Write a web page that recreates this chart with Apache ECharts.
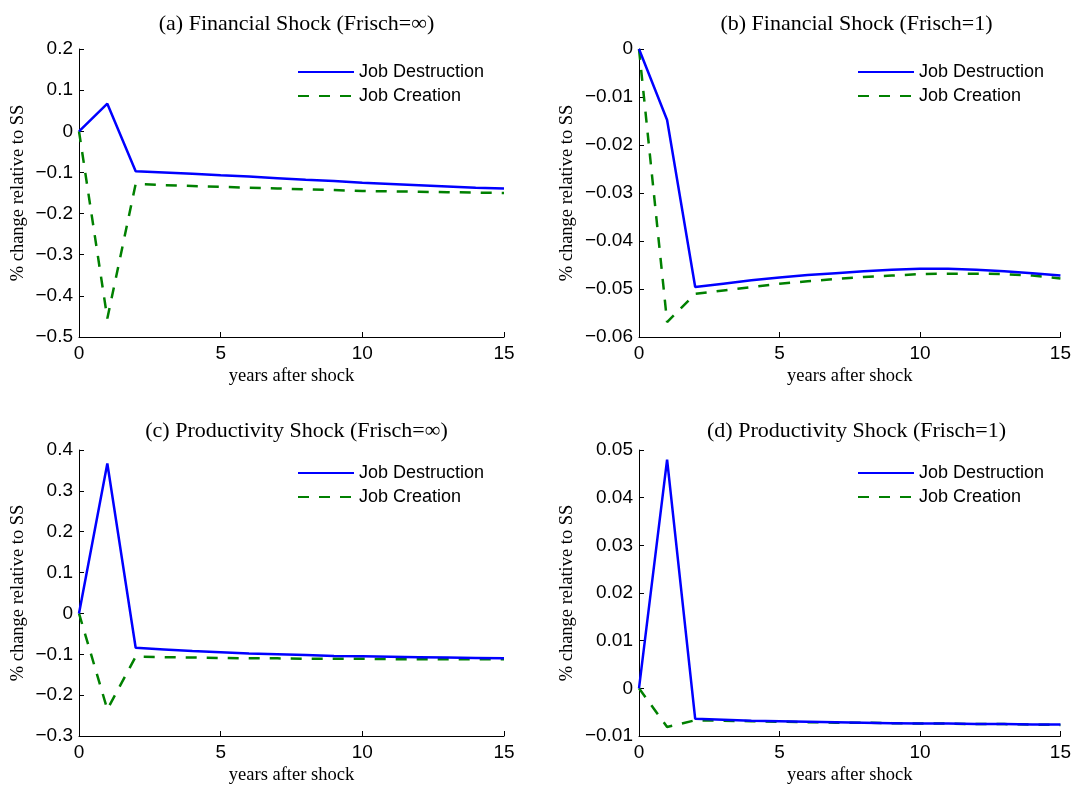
<!DOCTYPE html>
<html><head><meta charset="utf-8">
<script src="https://cdn.jsdelivr.net/npm/echarts@6/dist/echarts.min.js"></script>
<style>html,body{margin:0;padding:0;background:#fff}#c{width:1074px;height:786px}</style>
</head><body><div id="c"></div>
<script>
const years = [0,1,2,3,4,5,6,7,8,9,10,11,12,13,14,15];
const xTicks = [0,5,10,15];
const seriesNames = ['Job Destruction','Job Creation'];
const panelTitles = ['(a) Financial Shock (Frisch=\u221e)','(b) Financial Shock (Frisch=1)','(c) Productivity Shock (Frisch=\u221e)','(d) Productivity Shock (Frisch=1)'];
// (a) Financial shock, Frisch = inf
const jdA = [0,0.067,-0.097,-0.100,-0.103,-0.107,-0.110,-0.114,-0.118,-0.121,-0.125,-0.128,-0.131,-0.134,-0.137,-0.139];
const jcA = [0,-0.455,-0.128,-0.131,-0.133,-0.135,-0.137,-0.139,-0.141,-0.143,-0.145,-0.146,-0.147,-0.148,-0.149,-0.150];
// (b) Financial shock, Frisch = 1
const jdB = [0,-0.0148,-0.0496,-0.0489,-0.0482,-0.0476,-0.0471,-0.0467,-0.0463,-0.0460,-0.0458,-0.0458,-0.0460,-0.0463,-0.0467,-0.0472];
const jcB = [0,-0.0569,-0.0510,-0.0503,-0.0496,-0.0489,-0.0484,-0.0479,-0.0475,-0.0472,-0.0469,-0.0468,-0.0468,-0.0469,-0.0472,-0.0478];
// (c) Productivity shock, Frisch = inf
const jdC = [0,0.367,-0.084,-0.088,-0.092,-0.095,-0.098,-0.100,-0.102,-0.104,-0.105,-0.106,-0.107,-0.108,-0.109,-0.110];
const jcC = [0,-0.235,-0.106,-0.107,-0.108,-0.109,-0.110,-0.110,-0.111,-0.111,-0.111,-0.112,-0.112,-0.112,-0.112,-0.112];
// (d) Productivity shock, Frisch = 1
const jdD = [0,0.0480,-0.0064,-0.0066,-0.0068,-0.0069,-0.0070,-0.0071,-0.0072,-0.0073,-0.0074,-0.0074,-0.0075,-0.0075,-0.0076,-0.0076];
const jcD = [0,-0.0081,-0.0067,-0.0068,-0.0069,-0.0070,-0.0071,-0.0072,-0.0072,-0.0073,-0.0074,-0.0074,-0.0075,-0.0075,-0.0076,-0.0077];
// y-axis ranges per panel: [min, max, interval]
const yRanges = [[-0.5,0.2,0.1],[-0.06,0,0.01],[-0.3,0.4,0.1],[-0.01,0.05,0.01]];
const panelData = [[jdA,jcA],[jdB,jcB],[jdC,jcC],[jdD,jcD]];

const grids = [
  {left:79, top:49, width:425, height:288},
  {left:639, top:49, width:425, height:288},
  {left:79, top:450, width:425, height:288},
  {left:639, top:450, width:425, height:288}
];
const titleTops = [8, 8, 415, 415];
const legendTops = [63, 63, 464, 464];
const yNameGaps = [51, 62, 51, 62];
const sans = 'Liberation Sans, Arial, sans-serif';
const serif = 'Liberation Serif, Times New Roman, serif';
const fmt = v => {
  let s = String(+v.toFixed(4));
  return s.replace('-', '\u2212');
};

const option = {
  animation:false,
  backgroundColor:'#fff',
  title: grids.map((g,i)=>({
    text: panelTitles[i], left: g.left + g.width/2, top: titleTops[i], textAlign:'center',
    textStyle:{fontFamily:serif, fontSize:22, fontWeight:'normal', color:'#000'}
  })),
  grid: grids.map(g=>Object.assign({containLabel:false}, g)),
  legend: grids.map((g,i)=>({
    data: seriesNames, orient:'vertical', left: g.left + 218, top: legendTops[i],
    padding:0, itemWidth:56, itemHeight:1, itemGap:6,
    itemStyle:{opacity:0},
    textStyle:{fontFamily:sans, fontSize:18, color:'#000', lineHeight:18, padding:[0,0,0,0]},
    selectedMode:false
  })),
  xAxis: grids.map((g,i)=>({
    type:'value', gridIndex:i, min:0, max:15, interval:5,
    name:'years after shock', nameLocation:'middle', nameGap:30,
    nameTextStyle:{fontFamily:serif, fontSize:18.5, color:'#000'},
    axisLine:{show:true, onZero:false, lineStyle:{color:'#000', width:1}},
    axisTick:{show:true, inside:true, length:5, lineStyle:{color:'#000'}},
    axisLabel:{fontFamily:sans, fontSize:19, color:'#000', margin:7, formatter:fmt},
    splitLine:{show:false}
  })),
  yAxis: grids.map((g,i)=>({
    type:'value', gridIndex:i, min:yRanges[i][0], max:yRanges[i][1], interval:yRanges[i][2],
    name:'% change relative to SS', nameLocation:'middle', nameGap:yNameGaps[i],
    nameTextStyle:{fontFamily:serif, fontSize:18.5, color:'#000'},
    axisLine:{show:true, onZero:false, lineStyle:{color:'#000', width:1}},
    axisTick:{show:true, inside:true, length:5, lineStyle:{color:'#000'}},
    axisLabel:{fontFamily:sans, fontSize:19, color:'#000', margin:6, formatter:fmt},
    splitLine:{show:false}
  })),
  series: []
};
panelData.forEach((pd,i)=>{
  option.series.push({
    type:'line', name:seriesNames[0], xAxisIndex:i, yAxisIndex:i, symbol:'none',
    data: years.map((x,k)=>[x, pd[0][k]]),
    lineStyle:{color:'#0000ff', width:2.5}, itemStyle:{color:'#0000ff'}, z:3
  });
  option.series.push({
    type:'line', name:seriesNames[1], xAxisIndex:i, yAxisIndex:i, symbol:'none',
    data: years.map((x,k)=>[x, pd[1][k]]),
    lineStyle:{color:'#008000', width:2.5, type:[11,10]}, itemStyle:{color:'#008000'}, z:2
  });
});
const chart = echarts.init(document.getElementById('c'), null, {renderer:'canvas'});
chart.setOption(option);
</script>
</body></html>
